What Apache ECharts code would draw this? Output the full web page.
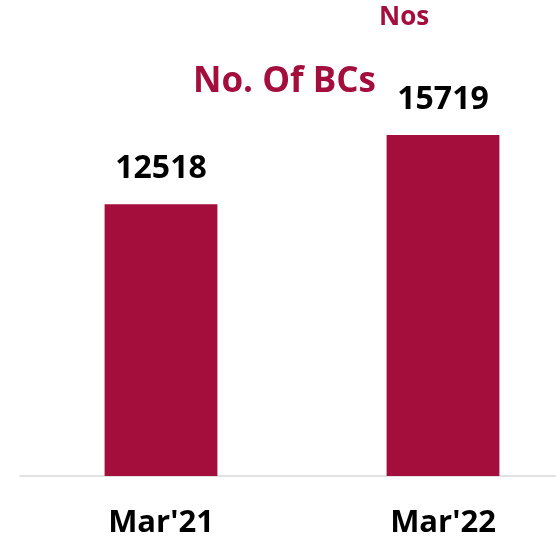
<!DOCTYPE html>
<html>
<head>
<meta charset="utf-8">
<script src="https://cdn.jsdelivr.net/npm/echarts@6/dist/echarts.min.js"></script>
<style>
  html, body { margin: 0; padding: 0; background: #ffffff; }
  #chart { width: 556px; height: 537px; }
</style>
</head>
<body>
<div id="chart"></div>
<script>
// Business correspondents count by year end
const categories = ["Mar'21", "Mar'22"];
const bcCounts = [12518, 15719];

const BAR_COLOR = '#A30E3D';
const FONT = '"Open Sans", "Liberation Sans", Arial, sans-serif';

const chart = echarts.init(document.getElementById('chart'));
chart.setOption({
  animation: false,
  title: [
    {
      text: 'No. Of BCs',
      left: 188, top: 60,
      textStyle: { color: BAR_COLOR, fontSize: 35, fontWeight: 'bold', fontFamily: FONT }
    },
    {
      text: 'Nos',
      left: 374, top: 0,
      textStyle: { color: BAR_COLOR, fontSize: 26, fontWeight: 'bold', fontFamily: FONT }
    }
  ],
  // the plot runs past the right edge so the axis line reaches the border
  grid: { left: 20, top: 42, right: -28, height: 434, containLabel: false, outerBoundsMode: 'none' },
  xAxis: {
    type: 'category',
    data: categories,
    axisLine: { show: true, lineStyle: { color: '#d9d9d9', width: 1.5 } },
    axisTick: { show: false },
    axisLabel: { margin: 32, color: '#000', fontSize: 31, fontWeight: 'bold', fontFamily: FONT }
  },
  yAxis: {
    type: 'value', min: 0, max: 20000,
    show: false, splitLine: { show: false }
  },
  series: [{
    type: 'bar',
    data: bcCounts,
    barWidth: '40%',
    itemStyle: { color: BAR_COLOR },
    label: {
      show: true, position: 'top', distance: 19,
      color: '#000', fontSize: 32, fontWeight: 'bold', fontFamily: FONT
    }
  }]
});
</script>
</body>
</html>
